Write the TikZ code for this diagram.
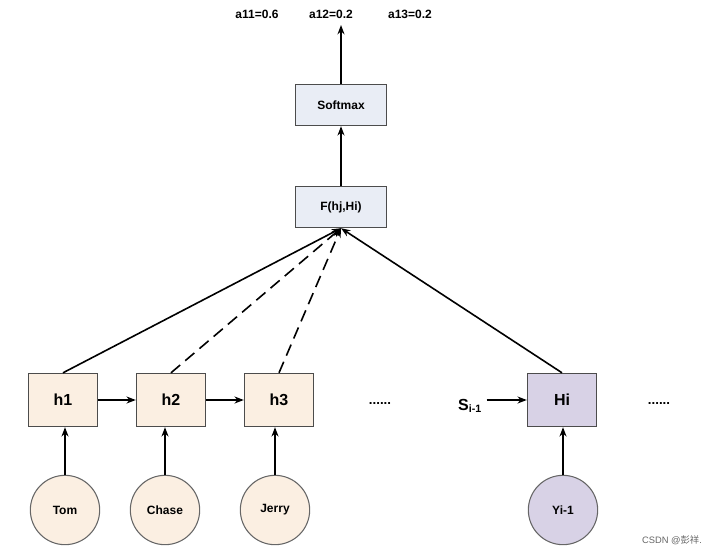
\documentclass[tikz,border=0pt]{standalone}
\usepackage{fontspec}
\setmainfont{Liberation Sans}
\newfontfamily\cjk{Noto Sans CJK SC}
\usetikzlibrary{arrows.meta}
\definecolor{beige}{HTML}{FBEFE2}
\definecolor{lav}{HTML}{D8D2E6}
\definecolor{topc}{HTML}{E9EDF5}
\begin{document}
\begin{tikzpicture}[x=0.75pt,y=-0.75pt,
  box/.style={draw=black!70,line width=0.8pt,minimum width=52pt,minimum height=40pt,fill=beige,font=\bfseries\large},
  top/.style={draw=black!70,line width=0.8pt,minimum width=68pt,minimum height=31pt,fill=topc,font=\bfseries\small},
  circ/.style={draw=black!60,line width=0.8pt,circle,minimum size=52pt,fill=beige,font=\bfseries\small},
  arr/.style={-{Stealth[length=7pt]},line width=1.2pt},
  lbl/.style={font=\bfseries\small}]
\useasboundingbox (0,0) rectangle (720,553);
\node[top] (sm) at (341,105) {Softmax};
\node[top] (f) at (341,207) {F(hj,Hi)};
\coordinate (out) at (341,25);
\node[lbl] (a1) at (257,14) {a11=0.6};
\node[lbl] (a2) at (331,14) {a12=0.2};
\node[lbl] (a3) at (410,14) {a13=0.2};
\node[box] (h1) at (63,400) {h1};
\node[box] (h2) at (171,400) {h2};
\node[box] (h3) at (279,400) {h3};
\node[box,fill=lav] (hi) at (562,400) {Hi};
\node[font=\bfseries] (d1) at (380,403) {......};
\node[font=\bfseries] (d2) at (659,403) {......};
\node[font=\bfseries\large] (s) at (470,406) {S\textsubscript{i-1}};
\node[circ] (c1) at (65,510) {Tom};
\node[circ] (c2) at (165,510) {Chase};
\node[circ] (c3) at (275,510) {Jerry};
\node[circ,fill=lav] (c4) at (563,510) {Yi-1};
\draw[arr] (sm) -- (out);
\draw[arr] (f) -- (sm);
\draw[arr] (h1) -- (h2);
\draw[arr] (h2) -- (h3);
\draw[arr] (s.east |- hi.west) -- (hi.west);
\foreach \c/\h in {c1/h1,c2/h2,c3/h3,c4/hi} \draw[arr] (\c.north) -- (\c.north |- \h.south);
\draw[arr] (h1.north) -- (f.south);
\draw[arr,dashed,dash pattern=on 9pt off 5pt] (h2.north) -- (f.south);
\draw[arr,dashed,dash pattern=on 9pt off 5pt] (h3.north) -- (f.south);
\draw[arr] (hi.north) -- (f.south);
\node[font=\scriptsize,text=black!60] (w) at (672,540) {CSDN @{\cjk 彭祥}.};
\end{tikzpicture}
\end{document}
